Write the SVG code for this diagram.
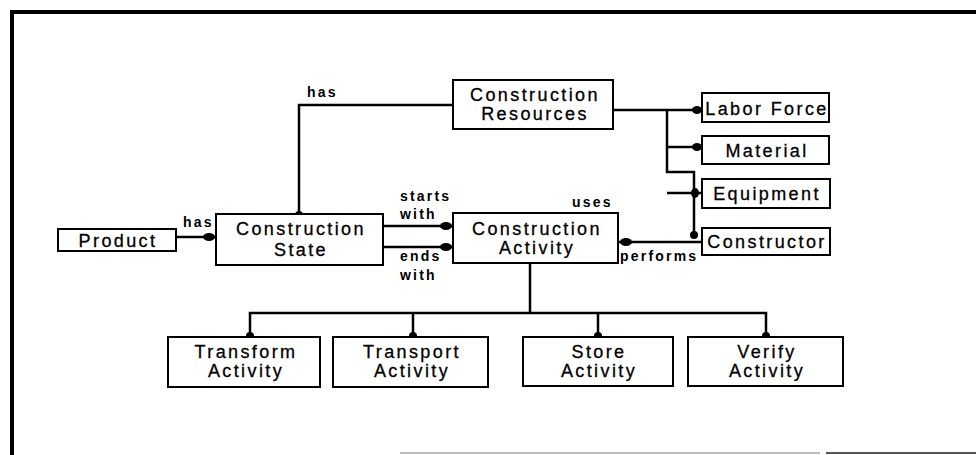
<svg xmlns="http://www.w3.org/2000/svg" width="976" height="455" viewBox="0 0 976 455">
<style>
.box{fill:#fff;stroke:#000;stroke-width:2}
.t{font-family:"Liberation Sans",Arial,sans-serif;font-size:18px;letter-spacing:2.4px;text-anchor:middle;fill:#000;stroke:#000;stroke-width:0.3}
.l{font-family:"Liberation Sans",Arial,sans-serif;font-size:14px;font-weight:bold;letter-spacing:2.2px;fill:#000}
.c{fill:none;stroke:#000;stroke-width:2.5}
.d{fill:#000}
</style>
<rect width="976" height="455" fill="#fff"/>
<g id="frame">
<path d="M12 455 V12 H976" fill="none" stroke="#000" stroke-width="4"/>
<path d="M400 453 H820" stroke="#bbb" stroke-width="2"/>
<path d="M826 453 H976" stroke="#555" stroke-width="2"/>
</g>
<g id="connectors">
<path class="c" d="M176 237 H216"/>
<ellipse class="d" cx="209" cy="237" rx="6" ry="4"/>
<path class="c" d="M299 215 V105 H453"/>
<circle class="d" cx="299" cy="215" r="4"/>
<path class="c" d="M383 226 H453"/>
<ellipse class="d" cx="446" cy="226" rx="6" ry="4"/>
<path class="c" d="M383 247 H453"/>
<ellipse class="d" cx="446" cy="247" rx="6" ry="4"/>
<path class="c" d="M618 242 H702"/>
<ellipse class="d" cx="626" cy="242" rx="6" ry="4"/>
<path class="c" d="M613 110 H702"/>
<ellipse class="d" cx="697" cy="110" rx="5" ry="4"/>
<path class="c" d="M667 110 V172 H694 V236"/>
<path class="c" d="M667 147 H702"/>
<ellipse class="d" cx="697" cy="147" rx="5" ry="4"/>
<path class="c" d="M667 193 H702"/>
<ellipse class="d" cx="695" cy="193" rx="4" ry="5"/>
<ellipse class="d" cx="694" cy="235" rx="4" ry="4"/>
<path class="c" d="M530 263 V313"/>
<path class="c" d="M250 337 V313 H766 V337"/>
<path class="c" d="M413 313 V337"/>
<path class="c" d="M598 313 V337"/>
<circle class="d" cx="250" cy="336" r="4"/>
<circle class="d" cx="413" cy="336" r="4"/>
<circle class="d" cx="598" cy="336" r="4"/>
<circle class="d" cx="766" cy="336" r="4"/>
<text class="l" x="183" y="227">has</text>
<text class="l" x="307" y="97">has</text>
<text class="l" x="400" y="201">starts</text>
<text class="l" x="400" y="219">with</text>
<text class="l" x="400" y="261">ends</text>
<text class="l" x="400" y="280">with</text>
<text class="l" x="572" y="207">uses</text>
<text class="l" x="620" y="261">performs</text>
</g>
<g id="product"><rect class="box" x="58" y="229" width="118" height="22"/><text class="t" x="118" y="247">Product</text></g>
<g id="construction-state"><rect class="box" x="216" y="214" width="167" height="51"/><text class="t" x="301" y="235">Construction</text><text class="t" x="301" y="256">State</text></g>
<g id="construction-resources"><rect class="box" x="453" y="80" width="160" height="49"/><text class="t" x="535" y="101">Construction</text><text class="t" x="535" y="120">Resources</text></g>
<g id="construction-activity"><rect class="box" x="453" y="213" width="165" height="50"/><text class="t" x="537" y="235">Construction</text><text class="t" x="537" y="254">Activity</text></g>
<g id="labor-force"><rect class="box" x="702" y="93" width="127" height="29"/><text class="t" x="767" y="115">Labor Force</text></g>
<g id="material"><rect class="box" x="702" y="136" width="127" height="28"/><text class="t" x="767" y="157">Material</text></g>
<g id="equipment"><rect class="box" x="702" y="179" width="128" height="29"/><text class="t" x="767" y="200">Equipment</text></g>
<g id="constructor"><rect class="box" x="702" y="228" width="128" height="27"/><text class="t" x="767" y="248">Constructor</text></g>
<g id="transform-activity"><rect class="box" x="168" y="337" width="152" height="50"/><text class="t" x="246" y="358">Transform</text><text class="t" x="246" y="377">Activity</text></g>
<g id="transport-activity"><rect class="box" x="333" y="337" width="155" height="50"/><text class="t" x="412" y="358">Transport</text><text class="t" x="412" y="377">Activity</text></g>
<g id="store-activity"><rect class="box" x="523" y="337" width="150" height="49"/><text class="t" x="599" y="358">Store</text><text class="t" x="599" y="377">Activity</text></g>
<g id="verify-activity"><rect class="box" x="688" y="337" width="155" height="49"/><text class="t" x="767" y="358">Verify</text><text class="t" x="767" y="377">Activity</text></g>
</svg>
